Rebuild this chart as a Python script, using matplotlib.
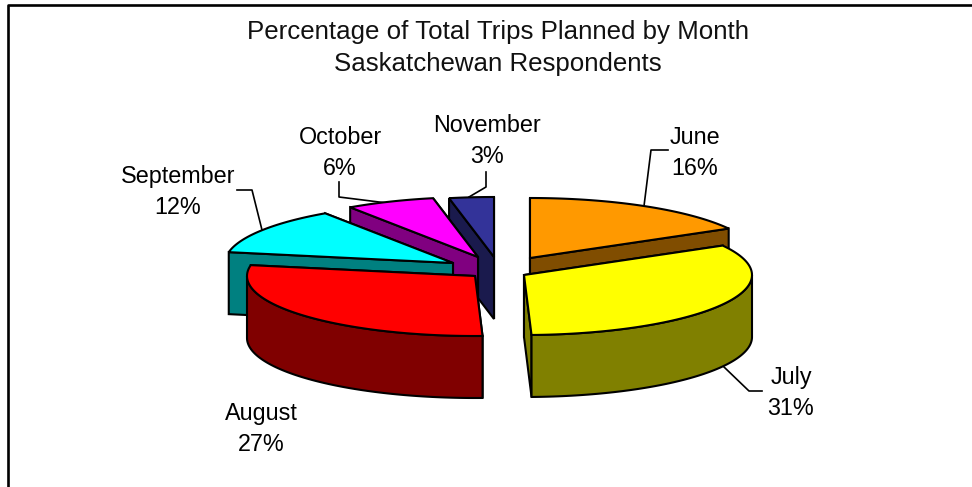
import numpy as np
import matplotlib
matplotlib.use("Agg")
import matplotlib.pyplot as plt
from matplotlib.patches import Polygon

months = ["June", "July", "August", "September", "October", "November"]
percent = [16, 31, 27, 12, 6, 3]
title = "Percentage of Total Trips Planned by Month\nSaskatchewan Respondents"

top_colors = ["#FF9900", "#FFFF00", "#FF0000", "#00FFFF", "#FF00FF", "#333399"]
side_colors = ["#804D00", "#808000", "#800000", "#008080", "#800080", "#1A1A4D"]

# where each exploded slice sits, in pixels
apex = [(530, 258), (524, 275), (475, 276), (453, 263), (478, 257), (494, 257)]
draw_order = [5, 4, 3, 0, 2, 1]
rx, ry, depth = 228, 60, 62

label_pos = [(695, 153), (791, 393), (261, 429), (178, 192), (340, 153), (487, 141)]
leaders = [
    [(668, 150), (651, 150), (644, 206)],
    [(724, 367), (749, 391), (762, 391)],
    None,
    [(237, 190), (252, 190), (262, 230)],
    [(339, 182), (339, 197), (387, 203)],
    [(486, 172), (486, 187), (469, 197)],
]

plt.rcParams["font.family"] = ["Liberation Sans", "DejaVu Sans"]
fig = plt.figure(figsize=(9.72, 4.87), dpi=100)
ax = fig.add_axes([0, 0, 1, 1])
ax.set_xlim(0, 972)
ax.set_ylim(487, 0)
ax.axis("off")

# chart border, only top and left show
ax.plot([7.5, 7.5, 972], [487, 5, 5], color="black", lw=1.9)


def rim(c, a, b):
    t = np.radians(np.linspace(a, b, 80))
    return np.column_stack([c[0] + rx * np.sin(t), c[1] - ry * np.cos(t)])


def face(pts, color, z):
    ax.add_patch(Polygon(pts, closed=True, facecolor=color, edgecolor="black",
                         lw=1.5, joinstyle="miter", zorder=z))


def drop(pts):
    return pts + np.array([0, depth])


edges = np.concatenate([[0], np.cumsum(percent)]) / sum(percent) * 360
z = 2
for i in draw_order:
    c = np.array(apex[i], dtype=float)
    a, b = edges[i], edges[i + 1]
    arc = rim(c, a, b)
    walls = []
    for p in (arc[0], arc[-1]):
        walls.append(np.array([c, p, p + [0, depth], c + [0, depth]]))
    # far wall first
    walls.sort(key=lambda w: w[:, 1].mean())
    for w in walls:
        face(w, side_colors[i], z)
        z += 1
    lo, hi = max(a, 90), min(b, 270)
    if lo < hi:
        front = rim(c, lo, hi)
        face(np.vstack([front, drop(front)[::-1]]), side_colors[i], z)
        z += 1
    face(np.vstack([c, arc]), top_colors[i], z)
    z += 1

for i, m in enumerate(months):
    ax.text(label_pos[i][0], label_pos[i][1], f"{m}\n{percent[i]}%", ha="center",
            va="center", fontsize=16.8, linespacing=1.4, zorder=50)
    if leaders[i]:
        xs, ys = zip(*leaders[i])
        ax.plot(xs, ys, color="black", lw=1.2, zorder=1)

ax.text(498, 48, title, ha="center", va="center", fontsize=18.6, linespacing=1.38,
        color="#111111", zorder=50)

fig.savefig("out.png", dpi=100)
